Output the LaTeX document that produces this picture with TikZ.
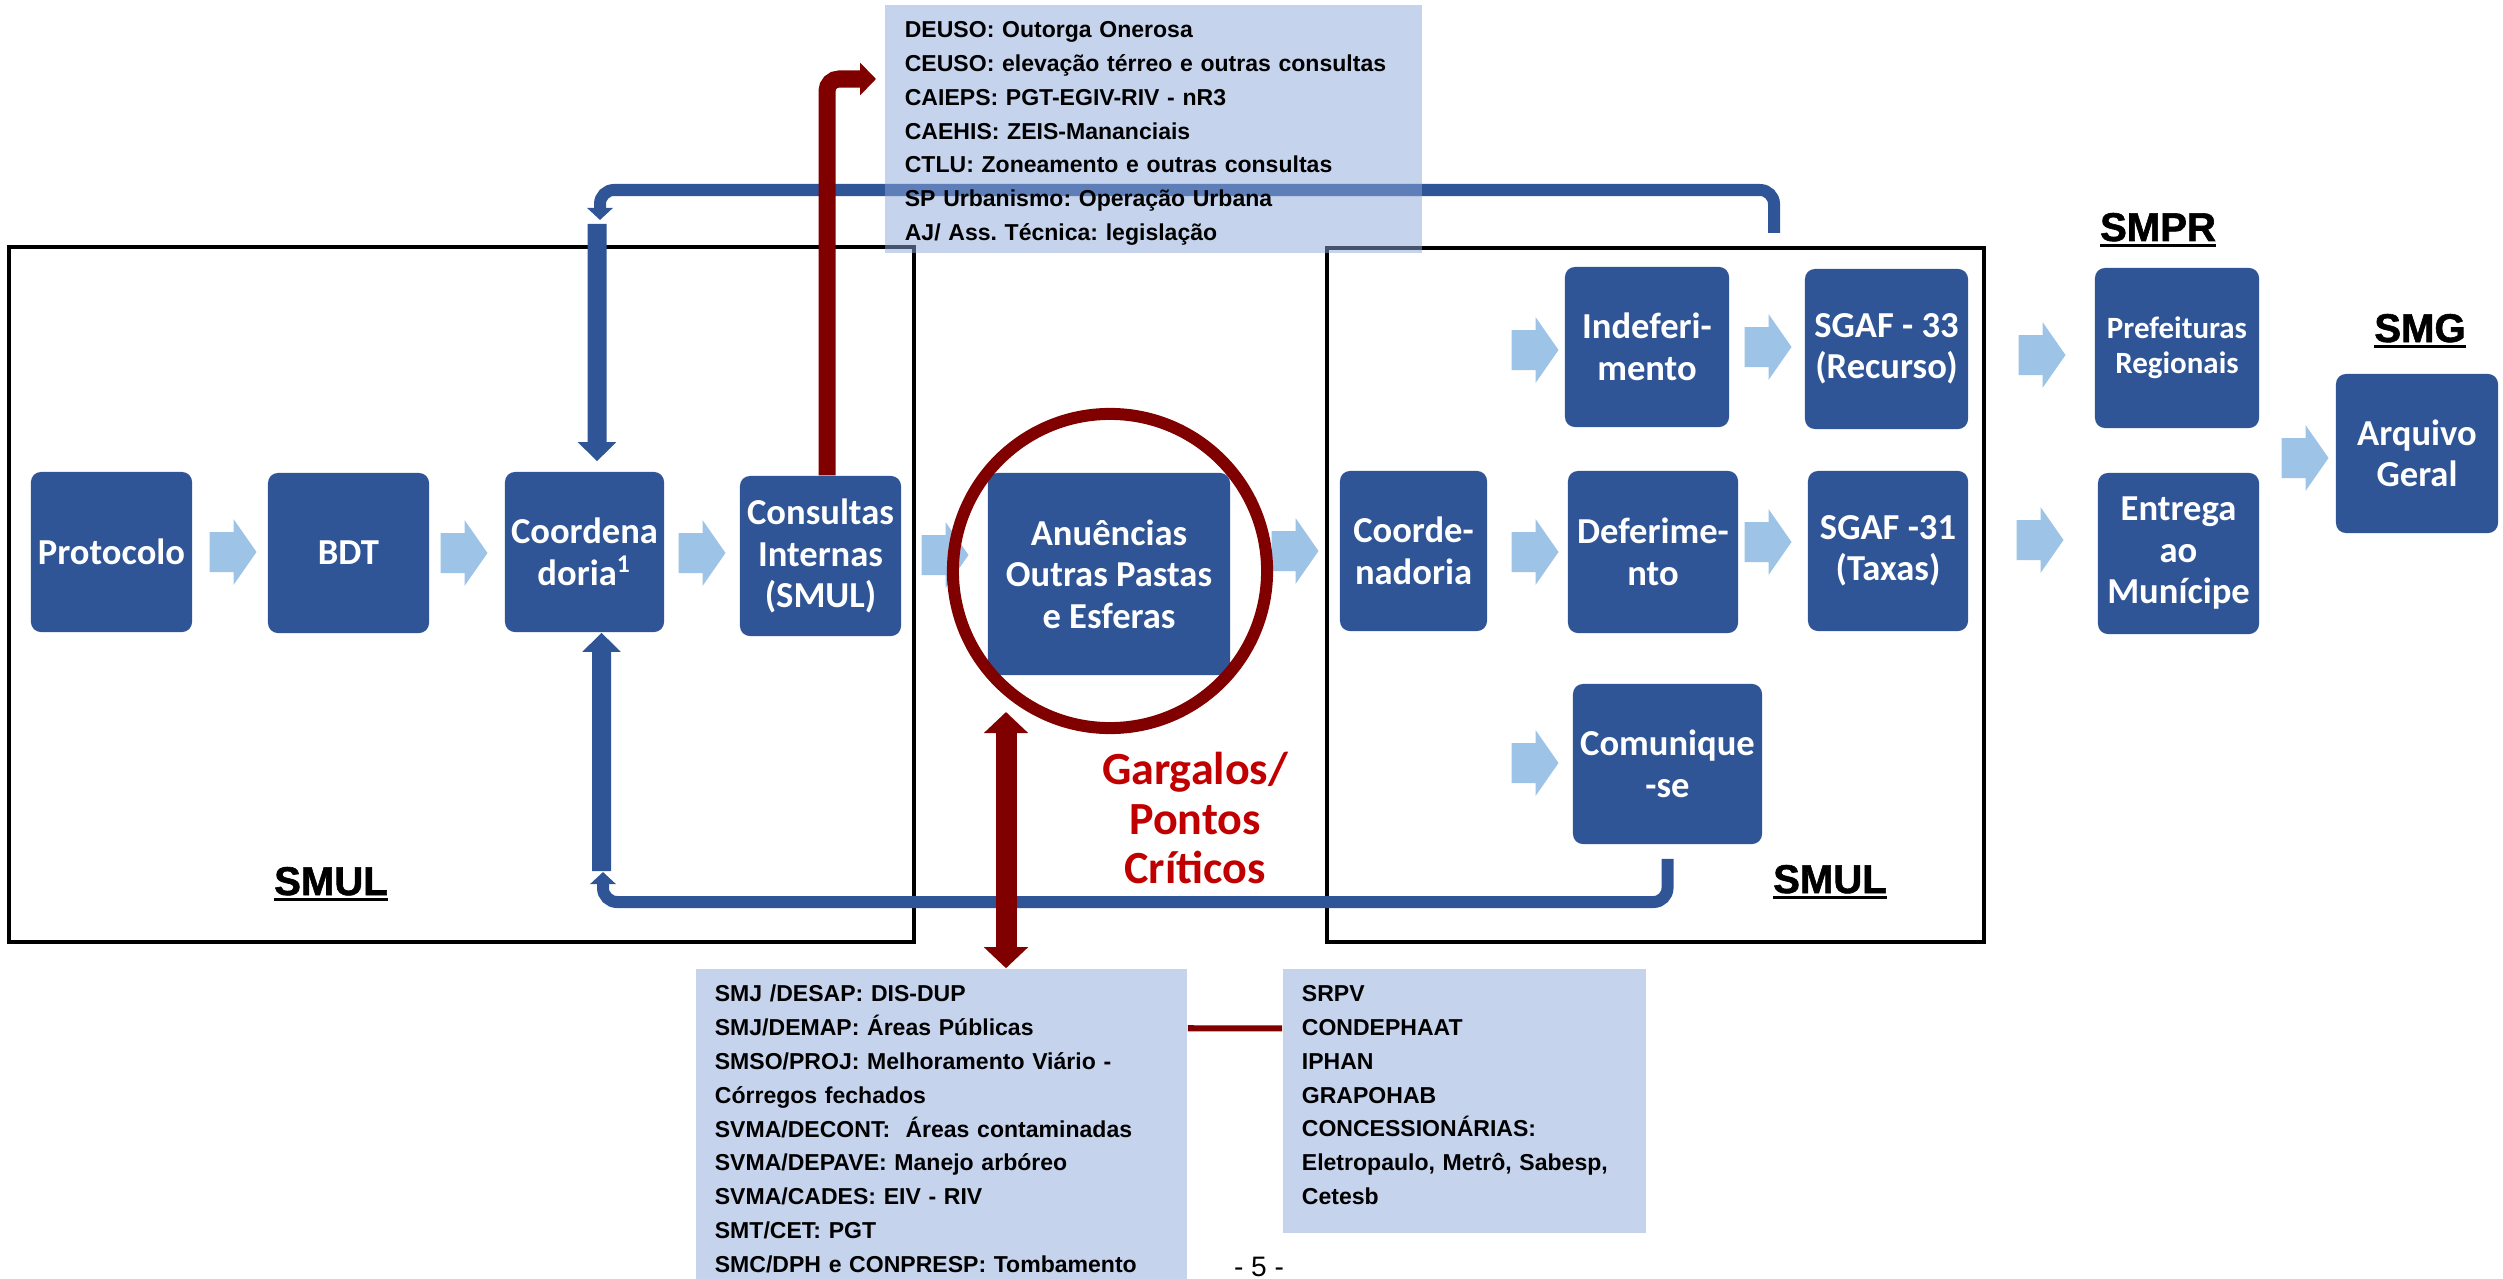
\documentclass[tikz,border=0pt]{standalone}
\usepackage{fontspec}
\usetikzlibrary{arrows.meta}
\newfontfamily\boxfont{Carlito}
\newfontfamily\listfont{Liberation Sans}
\newfontfamily\heavyfont{Liberation Sans}[BoldFeatures={FakeBold=1.5}]

\definecolor{boxblue}{RGB}{47,85,151}
\definecolor{pale}{RGB}{157,195,230}
\definecolor{note}{RGB}{139,167,217}
\definecolor{wine}{RGB}{128,0,0}
\definecolor{alert}{RGB}{192,0,0}

\newcommand{\heavyul}[1]{\setbox0\hbox{#1}\rlap{\rule[-1.8pt]{\wd0}{0.85pt}}\box0}

\tikzset{
  bluebox/.style={fill=boxblue, rounded corners=0.1cm, text=white, align=center, inner sep=0pt,
    font=\boxfont\bfseries\fontsize{10.4}{11.8}\selectfont},
  notebox/.style={fill=note, fill opacity=0.5, text opacity=1, inner xsep=0.2cm, inner ysep=0pt,
    align=left, font=\listfont\bfseries\fontsize{6.55}{9.62}\selectfont\frenchspacing},
  heavy/.style={inner sep=0pt, anchor=base, font=\heavyfont\bfseries\fontsize{11.4}{13}\selectfont},
  frame/.style={draw=black, line width=0.04cm},
  loopline/.style={draw=boxblue, line width=0.12cm, rounded corners=0.14cm,
    -{Triangle[width=0.25cm,length=0.12cm]}},
  fatline/.style={draw=boxblue, line width=0.19cm, -{Triangle[width=0.37cm,length=0.19cm]}},
  redline/.style={draw=wine, line width=0.17cm, rounded corners=0.12cm,
    -{Triangle[width=0.32cm,length=0.16cm]}},
  pics/pale arrow/.style={code={
    \fill[pale] (-23.5,-20) -- (0.5,-20) -- (0.5,-33) -- (23.5,0) -- (0.5,33) -- (0.5,20) -- (-23.5,20) -- cycle;}}
}

\begin{document}
\begin{tikzpicture}[x=0.01cm,y=-0.01cm]
\useasboundingbox (0,0) rectangle (2503,1279);

% SMUL frames
\draw[frame] (9,247) rectangle (914,942);
\draw[frame] (1327,248) rectangle (1984,942);

% light arrows between the steps
\foreach \ax/\ay in {233/552,464/553,702/553,945/555,1295/551,1535/350,1535/552,1535/763,
                     1768/347,1768/542,2042/355,2040/540,2305/458}
  \pic at (\ax,\ay) {pale arrow};

% steps
\node[bluebox, minimum width=1.61cm, minimum height=1.6cm] (proto) at (111.5,552) {Protocolo};
\node[bluebox, minimum width=1.61cm, minimum height=1.6cm] (bdt) at (348.5,553) {BDT};
\node[bluebox, minimum width=1.59cm, minimum height=1.6cm] (coord1) at (584.5,552) {Coordena\\doria\textsuperscript{1}};
\node[bluebox, minimum width=1.61cm, minimum height=1.6cm] (consint) at (820.5,556) {Consultas\\Internas\\(SMUL)};
\node[bluebox, minimum width=2.42cm, minimum height=2.02cm] (anuen) at (1109,574) {Anuências\\Outras Pastas\\e Esferas};
\node[bluebox, minimum width=1.47cm, minimum height=1.6cm] (coord2) at (1413.5,551) {Coorde-\\nadoria};
\node[bluebox, minimum width=1.64cm, minimum height=1.6cm] (indef) at (1647,347) {Indeferi-\\mento};
\node[bluebox, minimum width=1.63cm, minimum height=1.6cm] (sgaf33) at (1886.5,349) {SGAF - 33\\(Recurso)};
\node[bluebox, minimum width=1.70cm, minimum height=1.62cm] (defer) at (1653,552) {Deferime-\\nto};
\node[bluebox, minimum width=1.60cm, minimum height=1.6cm] (sgaf31) at (1888,551) {SGAF -31\\(Taxas)};
\node[bluebox, minimum width=1.89cm, minimum height=1.6cm] (comun) at (1667.5,764) {Comunique\\-se};
\node[bluebox, minimum width=1.64cm, minimum height=1.6cm,
      font=\boxfont\bfseries\fontsize{8.8}{10}\selectfont] (prefr) at (2177,348) {Prefeituras\\Regionais};
\node[bluebox, minimum width=1.61cm, minimum height=1.61cm] (entrega) at (2178.5,553.5) {Entrega\\ao\\Munícipe};
\node[bluebox, minimum width=1.62cm, minimum height=1.59cm] (arquivo) at (2417,453.5) {Arquivo\\Geral};

% return loops
\coordinate (loopR) at (1774,233);
\coordinate (loopL) at (600,190);
\coordinate (loopEnd) at (600,220);
\draw[loopline] (loopR) |- (loopL) -- (loopEnd);
\coordinate (fatTop) at (597,224);
\draw[fatline] (fatTop) -- ([xshift=0.125cm,yshift=0.1cm]coord1.north);

\coordinate (lowL) at (603,902);
\coordinate (lowEnd) at (603,872);
\draw[loopline, shorten <=0.14cm] (comun.south) |- (lowL) -- (lowEnd);
\coordinate (fatBot) at (601.5,871);
\draw[fatline] (fatBot) -- ([xshift=0.17cm]coord1.south);

% internal consultations
\coordinate (noteIn) at (876,79);
\draw[redline] ([xshift=0.065cm]consint.north) |- (noteIn);

% consultation lists
\node[notebox, text width=4.97cm, minimum width=5.37cm, minimum height=2.48cm] (topnote) at (1153.5,129) {%
\rule{0pt}{7.1pt}DEUSO: Outorga Onerosa\\
CEUSO: elevação térreo e outras consultas\\
CAIEPS: PGT-EGIV-RIV - nR3\\
CAEHIS: ZEIS-Mananciais\\
CTLU: Zoneamento e outras consultas\\
SP Urbanismo: Operação Urbana\\
AJ/ Ass. Técnica: legislação};

\node[notebox, inner xsep=0.19cm, text width=4.53cm, minimum width=4.91cm, minimum height=3.2cm] (lbox) at (941.5,1129) {%
SMJ /DESAP: DIS-DUP\\
SMJ/DEMAP: Áreas Públicas\\
SMSO/PROJ: Melhoramento Viário -\\
Córregos fechados\\
SVMA/DECONT:\ \ Áreas contaminadas\\
SVMA/DEPAVE: Manejo arbóreo\\
SVMA/CADES: EIV - RIV\\
SMT/CET: PGT\\
SMC/DPH e CONPRESP: Tombamento};

\node[notebox, inner xsep=0.19cm, text width=3.25cm, minimum width=3.63cm, minimum height=2.64cm] (rbox) at (1464.5,1101) {%
SRPV\\
CONDEPHAAT\\
IPHAN\\
GRAPOHAB\\
CONCESSIONÁRIAS:\\
Eletropaulo, Metrô, Sabesp,\\
Cetesb\rule[-3.4pt]{0pt}{0pt}};

\coordinate (gTop) at (1006,712);
\draw[wine, line width=0.21cm, {Triangle[width=0.43cm,length=0.21cm]}-{Triangle[width=0.43cm,length=0.21cm]}]
  (gTop) -- (gTop |- lbox.north);
\draw[wine, line width=0.06cm] ([yshift=-0.6cm]lbox.north east) -- ([yshift=-0.6cm]rbox.north west);

% bottleneck
\draw[wine, line width=0.12cm] ([xshift=0.01cm,yshift=0.03cm]anuen.center) circle [radius=1.57cm];
\node[font=\boxfont\bfseries\fontsize{13.1}{14.2}\selectfont, text=alert, align=center, inner sep=0pt]
  (gargalos) at (1195,818) {Gargalos/\\Pontos\\Críticos};

% secretariats
\node[heavy] (smulA) at (331,895) {\heavyul{SMUL}};
\node[heavy] (smulB) at (1830,893) {\heavyul{SMUL}};
\node[heavy] (smpr) at (2158,241) {\heavyul{SMPR}};
\node[heavy] (smg) at (2420,342) {\heavyul{SMG}};

\node[font=\listfont\fontsize{8}{9}\selectfont, anchor=base, inner sep=0pt] (pagenum) at (1259,1276) {- 5 -};
\end{tikzpicture}
\end{document}
